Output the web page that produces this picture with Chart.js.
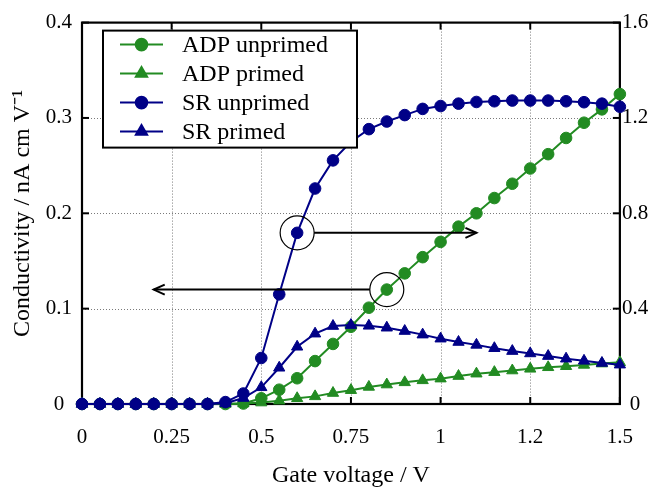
<!DOCTYPE html>
<html><head><meta charset="utf-8">
<script src="https://cdn.jsdelivr.net/npm/chart.js@4/dist/chart.umd.min.js"></script>
<style>html,body{margin:0;padding:0;background:#fff}#wrap{width:654px;height:490px}</style>
</head><body><div id="wrap"><canvas id="c" width="654" height="490"></canvas></div>
<script>
const voltage = [0,0.05,0.1,0.15,0.2,0.25,0.3,0.35,0.4,0.45,0.5,0.55,0.6,0.65,0.7,0.75,0.8,0.85,0.9,0.95,1,1.05,1.1,1.15,1.2,1.25,1.3,1.35,1.4,1.45,1.5];
const adpUnprimed = [0,0,0,0,0,0,0,0,0,0.0005,0.006,0.015,0.027,0.045,0.063,0.081,0.101,0.120,0.137,0.154,0.170,0.186,0.200,0.216,0.231,0.247,0.262,0.279,0.295,0.309,0.325];
const adpPrimed = [0,0,0,0,0,0,0,0,0,0.0005,0.0015,0.0035,0.006,0.008,0.0115,0.0145,0.0179,0.0204,0.0227,0.0248,0.0266,0.0293,0.0318,0.0334,0.0351,0.0369,0.0385,0.0396,0.041,0.0424,0.0437];
const srUnprimed = [0,0,0,0,0,0,0,0,0.008,0.044,0.193,0.46,0.718,0.904,1.022,1.10,1.153,1.185,1.212,1.238,1.25,1.26,1.267,1.27,1.273,1.273,1.273,1.27,1.266,1.26,1.247];
const srPrimed = [0,0,0,0,0,0,0,0,0.003,0.025,0.07,0.152,0.24,0.295,0.327,0.331,0.328,0.32,0.306,0.291,0.274,0.26,0.248,0.234,0.222,0.212,0.201,0.19,0.181,0.172,0.165];
const seriesLabels = ['ADP unprimed','ADP primed','SR unprimed','SR primed'];
const xTicks = [0,0.25,0.5,0.75,1,1.25,1.5];
const xTickLabels = ['0','0.25','0.5','0.75','1','1.2','1.5'];
const yLeftTicks = [0,0.1,0.2,0.3,0.4];
const yLeftLabels = ['0','0.1','0.2','0.3','0.4'];
const yRightTicks = [0,0.4,0.8,1.2,1.6];
const yRightLabels = ['0','0.4','0.8','1.2','1.6'];
const xTitle = 'Gate voltage / V';
const yTitle = 'Conductivity / nA cm V\u207B\u00B9';
// circled points (dataset index, point index) and arrow target x (data units)
const callouts = [{ds:2, idx:12, toX:1.1}, {ds:0, idx:17, toX:0.2}];

const GREEN = 'rgb(34,139,34)';
const BLUE = 'rgb(0,0,135)';
const FONT = "'Liberation Serif','Times New Roman',serif";

const pts = arr => voltage.map((v,i)=>({x:v, y:arr[i]}));
function mk(label, arr, color, style, axis, order){
  return {label, data: pts(arr), borderColor: color, backgroundColor: color,
    pointBackgroundColor: color, pointBorderColor: color, pointBorderWidth: 1,
    pointStyle: style, pointRadius: style==='triangle'?6.5:5.8, pointHoverRadius: 6,
    borderWidth: 2, tension: 0, yAxisID: axis, order, clip: false, fill: false};
}

function line(ctx,x1,y1,x2,y2){ctx.beginPath();ctx.moveTo(x1,y1);ctx.lineTo(x2,y2);ctx.stroke();}

const decor = {
  id: 'decor',
  beforeDatasetsDraw(chart){
    const {ctx, chartArea:a, scales:{x,y,y1}} = chart;
    ctx.save();
    ctx.strokeStyle = '#7a7a7a'; ctx.lineWidth = 1; ctx.setLineDash([1,2]);
    xTicks.forEach(v=>{ if(v>x.min && v<x.max){ const px=Math.round(x.getPixelForValue(v))+0.5; line(ctx,px,a.top,px,a.bottom);} });
    yLeftTicks.forEach(v=>{ if(v>y.min && v<y.max){ const py=Math.round(y.getPixelForValue(v))+0.5; line(ctx,a.left,py,a.right,py);} });
    ctx.setLineDash([]);
    ctx.strokeStyle = '#000'; ctx.lineWidth = 2;
    xTicks.forEach(v=>{ const px=x.getPixelForValue(v); line(ctx,px,a.bottom,px,a.bottom-7); line(ctx,px,a.top,px,a.top+7); });
    yLeftTicks.forEach(v=>{ const py=y.getPixelForValue(v); line(ctx,a.left,py,a.left+7,py); });
    yRightTicks.forEach(v=>{ const py=y1.getPixelForValue(v); line(ctx,a.right,py,a.right-7,py); });
    ctx.lineWidth = 2.2;
    ctx.strokeRect(a.left,a.top,a.right-a.left,a.bottom-a.top);
    ctx.restore();
  },
  afterDatasetsDraw(chart){
    const {ctx, chartArea:a, scales:{x}} = chart;
    ctx.save();
    callouts.forEach(c=>{
      const el = chart.getDatasetMeta(c.ds).data[c.idx];
      const cx = el.x, cy = el.y, r = 17;
      ctx.strokeStyle='#000'; ctx.lineWidth=1.2;
      ctx.beginPath(); ctx.arc(cx,cy,r,0,Math.PI*2); ctx.stroke();
      const tx = x.getPixelForValue(c.toX);
      const dir = tx > cx ? 1 : -1;
      const sx = cx + dir*r;
      ctx.lineWidth = 2;
      line(ctx,sx,cy,tx,cy);
      ctx.beginPath();
      ctx.moveTo(tx-dir*11,cy-5); ctx.lineTo(tx,cy); ctx.lineTo(tx-dir*11,cy+5);
      ctx.stroke();
    });
    const bx = a.left+21, by = a.top+8, bw = 254, bh = 117;
    ctx.fillStyle='#fff'; ctx.fillRect(bx,by,bw,bh);
    ctx.strokeStyle='#000'; ctx.lineWidth=2; ctx.strokeRect(bx,by,bw,bh);
    ctx.font = "24px " + FONT; ctx.textBaseline='middle'; ctx.textAlign='left';
    chart.data.datasets.forEach((ds,i)=>{
      const ry = by + 14 + i*29;
      ctx.strokeStyle = ds.borderColor; ctx.fillStyle = ds.borderColor; ctx.lineWidth = 2;
      line(ctx,bx+17,ry,bx+60,ry);
      Chart.helpers.drawPoint(ctx,{pointStyle: ds.pointStyle, radius: ds.pointRadius, borderWidth: 1, rotation:0}, bx+38.5, ry);
      ctx.fillStyle='#000';
      ctx.fillText(ds.label, bx+79, ry+1);
    });
    ctx.restore();
  }
};

new Chart(document.getElementById('c'), {
  type: 'line',
  data: { datasets: [
    mk(seriesLabels[0], adpUnprimed, GREEN, 'circle', 'y', 4),
    mk(seriesLabels[1], adpPrimed, GREEN, 'triangle', 'y', 3),
    mk(seriesLabels[2], srUnprimed, BLUE, 'circle', 'y1', 2),
    mk(seriesLabels[3], srPrimed, BLUE, 'triangle', 'y1', 1)
  ]},
  options: {
    responsive: false, animation: false, devicePixelRatio: 1,
    layout: { padding: { top: 17, left: 0, right: 0, bottom: 0 } },
    plugins: { legend: { display: false }, tooltip: { enabled: false } },
    scales: {
      x: { type: 'linear', min: 0, max: 1.5,
        afterBuildTicks: s => { s.ticks = xTicks.map(v=>({value:v})); },
        afterFit: s => { s.height = 86; },
        grid: { display: false, drawTicks: false }, border: { display: false },
        ticks: { autoSkip: false, maxRotation: 0, padding: 21, color: '#000',
          font: { family: FONT, size: 21 },
          callback: v => xTickLabels[xTicks.indexOf(v)] },
        title: { display: true, text: xTitle, color: '#000', font: { family: FONT, size: 24 }, padding: { top: 0, bottom: 0 } }
      },
      y: { type: 'linear', position: 'left', min: 0, max: 0.4,
        afterBuildTicks: s => { s.ticks = yLeftTicks.map(v=>({value:v})); },
        afterFit: s => { s.width = 82; },
        grid: { display: false, drawTicks: false }, border: { display: false },
        ticks: { crossAlign: 'center', padding: 10, color: '#000', font: { family: FONT, size: 21 },
          callback: v => yLeftLabels[yLeftTicks.indexOf(v)] },
        title: { display: true, text: yTitle, color: '#000', font: { family: FONT, size: 24 }, padding: { top: 8, bottom: 0 } }
      },
      y1: { type: 'linear', position: 'right', min: 0, max: 1.6,
        afterBuildTicks: s => { s.ticks = yRightTicks.map(v=>({value:v})); },
        afterFit: s => { s.width = 34; },
        grid: { display: false, drawTicks: false }, border: { display: false },
        ticks: { crossAlign: 'center', padding: 2, color: '#000', font: { family: FONT, size: 21 },
          callback: v => yRightLabels[yRightTicks.indexOf(v)] }
      }
    }
  },
  plugins: [decor]
});
</script></body></html>
